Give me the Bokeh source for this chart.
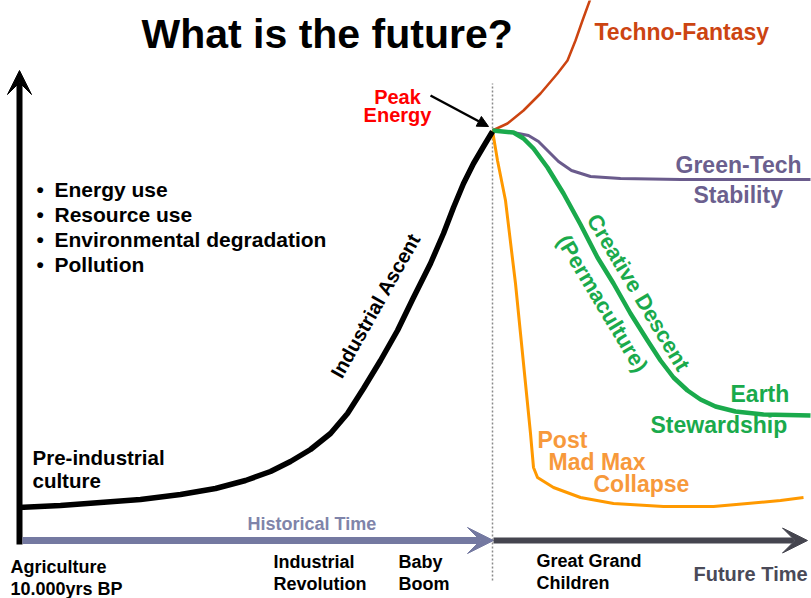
from bokeh.plotting import figure
from bokeh.models import Range1d, Arrow, VeeHead, NormalHead, ColumnDataSource
from bokeh.core.properties import value
from bokeh.embed import file_html
from bokeh.resources import INLINE
import math

FONT = "Liberation Sans"

# ---- curves: time position (x) and level (y, higher = more energy use) ----
ascent_x = [18, 60, 100, 140, 180, 215, 245, 270, 290, 310, 330, 347, 363, 380, 397, 413, 430, 443, 453, 463, 473, 483, 492]
ascent_y = [91, 93, 96, 99, 104, 110, 118, 127, 137, 149, 165, 185, 210, 238, 268, 301, 335, 365, 391, 415, 435, 452, 467]

techno_x = [492, 507, 523, 540, 557, 567, 575, 582, 590]
techno_y = [468, 475, 488, 505, 525, 538, 558, 578, 600]

greentech_x = [492, 513, 528, 538, 548, 558, 571, 590, 620, 680, 810]
greentech_y = [468, 466, 463, 457, 447, 437, 428, 422, 420, 419, 419]

descent_x = [492, 513, 523, 533, 547, 563, 580, 597, 613, 630, 647, 660, 673, 687, 700, 715, 735, 763, 810]
descent_y = [468, 466, 460, 450, 431, 405, 374, 341, 315, 285, 258, 238, 221, 208, 199, 192, 187, 184, 183]

collapse_x = [492, 497, 505, 511, 515, 520, 525, 530, 533, 537, 553, 580, 613, 663, 713, 747, 780, 803]
collapse_y = [468, 438, 398, 348, 315, 265, 215, 165, 131, 121, 111, 101, 95, 92, 92, 95, 98, 101]

# ---- axes ----
axis_origin_x = 19
axis_base_y = 58
axis_top_y = 528
peak_x = 492
future_end_x = 807

# ---- labels ----
title = "What is the future?"
bullets = ["Energy use", "Resource use", "Environmental degradation", "Pollution"]
bullet_y = [409, 384, 359, 334]

bottom_labels = ["Agriculture", "10.000yrs BP", "Industrial", "Revolution",
                 "Baby", "Boom", "Great Grand", "Children"]
bottom_x = [10, 10, 273, 273, 398, 398, 536, 536]
bottom_y = [32, 10, 37, 15, 37, 15, 38, 16]

p = figure(width=811, height=598, x_range=Range1d(0, 811), y_range=Range1d(0, 598),
           output_backend="svg", toolbar_location=None, min_border=0,
           x_axis_location=None, y_axis_location=None)
p.grid.visible = False
p.outline_line_color = None
p.background_fill_color = "white"

# dotted divider at peak
p.line([peak_x, peak_x], [18, 515], line_color="#8a8a8a", line_width=1.5, line_dash="2 2")

# axes arrows
p.add_layout(Arrow(x_start=axis_origin_x, y_start=axis_base_y - 4, x_end=axis_origin_x, y_end=axis_top_y,
                   line_color="black", line_width=6,
                   end=VeeHead(size=24, fill_color="black", line_color="black", line_width=1)))
p.add_layout(Arrow(x_start=axis_origin_x + 3, y_start=axis_base_y, x_end=peak_x + 1, y_end=axis_base_y,
                   line_color="#7479a1", line_width=7,
                   end=VeeHead(size=26, fill_color="#7479a1", line_color="#7479a1", line_width=1)))
p.add_layout(Arrow(x_start=peak_x + 1, y_start=axis_base_y, x_end=future_end_x, y_end=axis_base_y,
                   line_color="#45454f", line_width=6,
                   end=VeeHead(size=25, fill_color="#45454f", line_color="#45454f", line_width=1)))

# curves
p.line(techno_x, techno_y, line_color="#cc4411", line_width=2.5, line_join="round")
p.line(greentech_x, greentech_y, line_color="#6a5b8c", line_width=3, line_join="round")
p.line(collapse_x, collapse_y, line_color="#ff9900", line_width=3, line_join="round")
p.line(descent_x, descent_y, line_color="#1aaa4c", line_width=4.5, line_join="round")
p.line(ascent_x, ascent_y, line_color="black", line_width=5.5, line_join="round")

# peak energy pointer
p.add_layout(Arrow(x_start=430, y_start=503, x_end=488, y_end=472, line_color="black", line_width=2.5,
                   end=NormalHead(size=11, fill_color="black", line_color="black")))


def label(texts, xs, ys, color, size, align="left", baseline="alphabetic", angle=0.0):
    src = ColumnDataSource(dict(x=xs, y=ys, t=texts))
    p.text(x="x", y="y", text="t", source=src, text_color=color, text_font=value(FONT),
           text_font_style="bold", text_font_size=size, text_align=align,
           text_baseline=baseline, angle=angle)


label([title], [141], [565], "black", "41px")
label(["Techno-Fantasy"], [594], [567], "#cc4411", "23px")
label(["Peak", "Energy"], [397, 397], [502, 484], "#ff0000", "20px", align="center")
label(["•"] * len(bullets), [36] * len(bullets), bullet_y, "black", "21px")
label(bullets, [54] * len(bullets), bullet_y, "black", "21px")
label(["Pre-industrial", "culture"], [32, 32], [141, 118], "black", "20.5px")
label(["Historical Time"], [247], [75], "#7f84aa", "18px")
label(bottom_labels, bottom_x, bottom_y, "black", "18px")
label(["Future Time"], [693], [25], "#4a4a58", "20px")
label(["Green-Tech", "Stability"], [675, 693], [434, 404], "#6b5f8e", "23px")
label(["Earth", "Stewardship"], [730, 650], [205, 174], "#1aaa4c", "23px")
label(["Post", "Mad Max", "Collapse"], [537, 548, 593], [159, 137, 115], "#f7993b", "23px")
label(["Industrial Ascent"], [375], [293], "black", "20px", align="center", baseline="middle",
      angle=math.radians(60.7))
label(["Creative Descent"], [638], [306], "#1aaa4c", "22px", align="center", baseline="middle",
      angle=math.radians(-59))
label(["(Permaculture)"], [602], [295], "#1aaa4c", "22px", align="center", baseline="middle",
      angle=math.radians(-59))

open("out.html", "w").write(file_html(p, INLINE))
